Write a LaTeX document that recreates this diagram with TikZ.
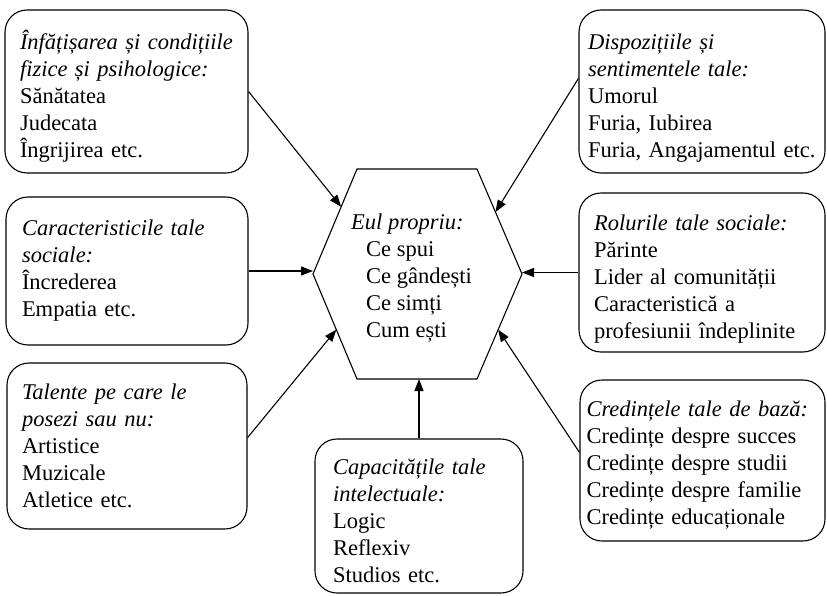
\documentclass[tikz,border=0pt]{standalone}
\usepackage{fontspec}
\setmainfont{Liberation Serif}
\usetikzlibrary{arrows.meta,calc}
\tikzset{
	trait/.style={draw, line width=1.1pt, rounded corners=22pt, align=left,
		inner xsep=15pt, inner ysep=0pt},
	feeds/.style={line width=1.1pt, -{Triangle[length=12pt,width=9pt]}},
}

\begin{document}
\begin{tikzpicture}[x=1pt,y=1pt,yscale=-1,xscale=1,font=\fontsize{22.5}{27}\selectfont]
\useasboundingbox (0,0) rectangle (827,596);

% central hexagon
\coordinate (hA) at (357,169);
\coordinate (hB) at (477,169);
\coordinate (hC) at (522,274);
\coordinate (hD) at (477,379);
\coordinate (hE) at (357,379);
\coordinate (hF) at (313,274);
\draw [line width=1.1pt] (hA) -- (hB) -- (hC) -- (hD) -- (hE) -- (hF) -- cycle;
\node (self) [anchor=west, align=left, inner sep=0pt] at (351,278)
	{\textit{Eul propriu:}\\ \hspace*{15pt}Ce spui\\ \hspace*{15pt}Ce gândești\\
	 \hspace*{15pt}Ce simți\\ \hspace*{15pt}Cum ești};

% boxes round it
\node (looks) [trait, text height=29pt, text width=213pt, minimum height=163pt] at (126.5,91.5)
	{\textit{Înfățișarea și condițiile}\\ \textit{fizice și psihologice:}\\
	 Sănătatea\\ Judecata\\ Îngrijirea etc.};
\node (moods) [trait, text height=29pt, inner xsep=9pt, text width=228pt, minimum height=163pt] at (702,91.5)
	{\textit{Dispozițiile și}\\ \textit{sentimentele tale:}\\
	 Umorul\\ Furia, Iubirea\\ Furia, Angajamentul etc.};
\node (social) [trait, inner xsep=16pt, text width=210pt, minimum height=148pt] at (127,271)
	{\textit{Caracteristicile tale}\\ \textit{sociale:}\\ Încrederea\\ Empatia etc.};
\node (roles) [trait, text height=29pt, text width=216pt, minimum height=159pt] at (702,272.5)
	{\textit{Rolurile tale sociale:}\\ Părinte\\ Lider al comunității\\
	 Caracteristică a\\ profesiunii îndeplinite};
\node (talents) [trait, text width=210pt, minimum height=166pt] at (127,446)
	{\textit{Talente pe care le}\\ \textit{posezi sau nu:}\\
	 Artistice\\ Muzicale\\ Atletice etc.};
\node (beliefs) [trait, text height=24pt, inner xsep=6.5pt, text width=232pt, minimum height=161pt] at (702.5,460.5)
	{\textit{Credințele tale de bază:}\\ Credințe despre succes\\
	 Credințe despre studii\\ Credințe despre familie\\ Credințe educaționale};
\node (intellect) [trait, text height=26pt, inner xsep=18pt, text width=172pt, minimum height=154pt] at (419,516)
	{\textit{Capacitățile tale}\\ \textit{intelectuale:}\\
	 Logic\\ Reflexiv\\ Studios etc.};

% arrows into the hexagon
\draw [feeds] (looks.east) -- ($(hF)!0.64!(hA)$);
\draw [feeds] ($(moods.north west)!0.42!(moods.south west)$) -- ($(hB)!0.41!(hC)$);
\draw [feeds] (social.east) -- (social.east -| hF);
\draw [feeds] (roles.west) -- (roles.west -| hC);
\draw [feeds] ($(talents.north east)!0.45!(talents.south east)$) -- ($(hF)!0.53!(hE)$);
\draw [feeds] ($(beliefs.north west)!0.45!(beliefs.south west)$) -- ($(hC)!0.53!(hD)$);
\draw [feeds] (intellect.north) -- (intellect.north |- hE);

\end{tikzpicture}
\end{document}
